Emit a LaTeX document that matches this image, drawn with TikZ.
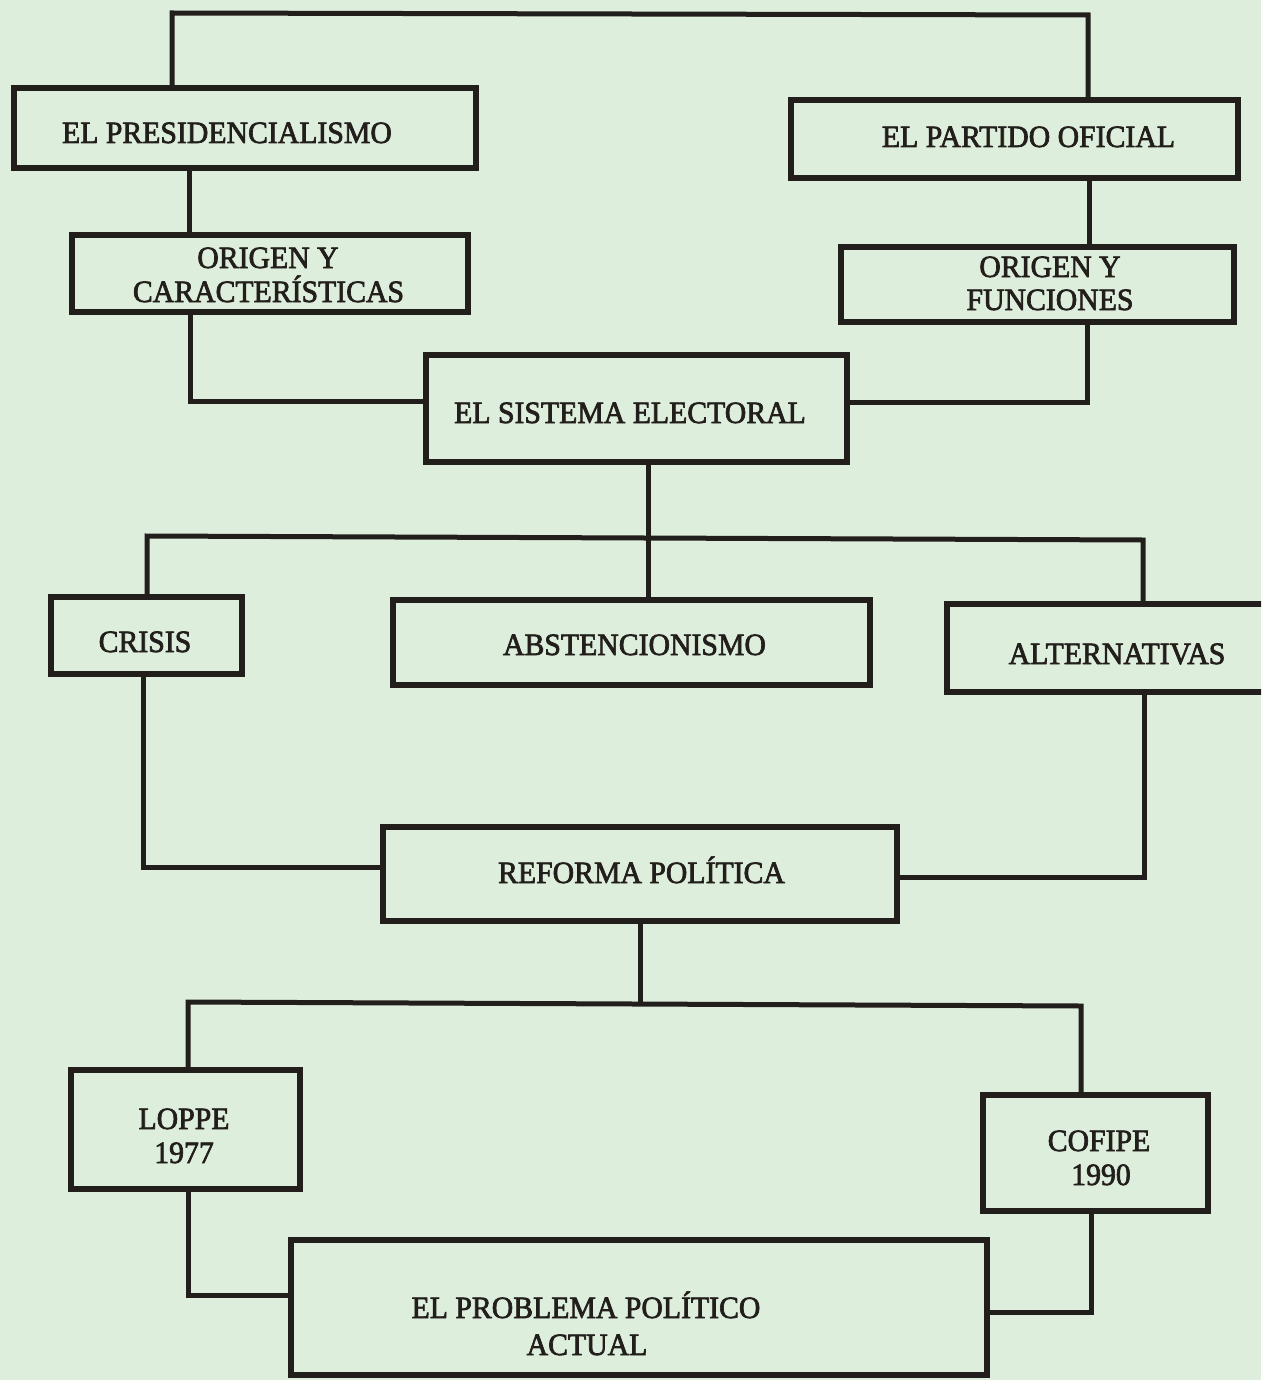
\documentclass[tikz,border=0pt]{standalone}
\usepackage{fontspec}
\newfontfamily\boxfont{Liberation Serif}[FakeBold=2.2,FakeStretch=0.96]
\definecolor{paper}{RGB}{222,238,220}
\definecolor{ink}{RGB}{34,30,27}
\begin{document}
\begin{tikzpicture}[x=1pt,y=-1pt,
  box/.style={draw=ink, line width=5.5pt, rectangle, inner sep=0pt},
  conn/.style={draw=ink, line width=5pt, line join=miter},
  lbl/.style={anchor=base, inner sep=0pt, text=ink, font=\boxfont\fontsize{31}{35}\selectfont}]
\useasboundingbox (0,0) rectangle (1261,1380);
\fill[paper] (0,0) rectangle (1261,1380);
\clip (0,0) rectangle (1261,1380);

% boxes
\node[box, minimum width=462pt, minimum height=80pt] (pres) at (245,128) {};
\node[box, minimum width=447pt, minimum height=78pt] (part) at (1014.5,139) {};
\node[box, minimum width=396pt, minimum height=77pt] (oc) at (270,273.5) {};
\node[box, minimum width=393pt, minimum height=75pt] (of) at (1037.5,284.5) {};
\node[box, minimum width=421pt, minimum height=107pt] (sis) at (636.5,408.5) {};
\node[box, minimum width=191pt, minimum height=77pt] (crisis) at (146.5,635.5) {};
\node[box, minimum width=477pt, minimum height=85pt] (abst) at (631.5,642.5) {};
\node[box, minimum width=328pt, minimum height=88pt] (alt) at (1111,648) {};
\node[box, minimum width=514pt, minimum height=94pt] (ref) at (640,874) {};
\node[box, minimum width=229pt, minimum height=119pt] (loppe) at (185.5,1129.5) {};
\node[box, minimum width=225pt, minimum height=116pt] (cofipe) at (1095.5,1153) {};
\node[box, minimum width=696pt, minimum height=135pt] (prob) at (639,1307.5) {};

% labels
\node[lbl] (tpres) at (227,143) {EL PRESIDENCIALISMO};
\node[lbl] (tpart) at (1028.5,147) {EL PARTIDO OFICIAL};
\node[lbl] (toc1) at (268,268) {ORIGEN Y};
\node[lbl] (toc2) at (268.5,302) {CARACTERÍSTICAS};
\node[lbl] (tof1) at (1050,277) {ORIGEN Y};
\node[lbl] (tof2) at (1050,310) {FUNCIONES};
\node[lbl] (tsis) at (630,423) {EL SISTEMA ELECTORAL};
\node[lbl] (tcri) at (145,652) {CRISIS};
\node[lbl] (tabs) at (634.5,655) {ABSTENCIONISMO};
\node[lbl] (talt) at (1117,664) {ALTERNATIVAS};
\node[lbl] (tref) at (641.5,883) {REFORMA POLÍTICA};
\node[lbl] (tlo1) at (184,1129) {LOPPE};
\node[lbl] (tlo2) at (184,1163) {1977};
\node[lbl] (tco1) at (1099,1151) {COFIPE};
\node[lbl] (tco2) at (1101,1185) {1990};
\node[lbl] (tpr1) at (586,1318) {EL PROBLEMA POLÍTICO};
\node[lbl] (tpr2) at (587,1355) {ACTUAL};

% connector waypoints
\coordinate (tL) at (172,13);
\coordinate (tR) at (1088,15);
\coordinate (pA) at (189,0);
\coordinate (pB) at (1089,0);
\coordinate (sL) at (190,401);
\coordinate (sR) at (1087,402);
\coordinate (mC) at (648,0);
\coordinate (bL) at (147,536);
\coordinate (bR) at (1143,540);
\coordinate (rL) at (143,867);
\coordinate (rR) at (1144,877);
\coordinate (rC) at (640,1004);
\coordinate (lL) at (188,1002);
\coordinate (lR) at (1081,1006);
\coordinate (qL) at (188,1295);
\coordinate (qR) at (1091,1312);

% connectors
\draw[conn] (pres.north -| tL) -- (tL) -- (tR) -- (part.north -| tR);
\draw[conn] (pres.south -| pA) -- (oc.north -| pA);
\draw[conn] (part.south -| pB) -- (of.north -| pB);
\draw[conn] (oc.south -| sL) -- (sL) -- (sis.west |- sL);
\draw[conn] (of.south -| sR) -- (sR) -- (sis.east |- sR);
\draw[conn] (sis.south -| mC) -- (abst.north -| mC);
\draw[conn] (crisis.north -| bL) -- (bL) -- (bR) -- (alt.north -| bR);
\draw[conn] (crisis.south -| rL) -- (rL) -- (ref.west |- rL);
\draw[conn] (alt.south -| rR) -- (rR) -- (ref.east |- rR);
\draw[conn] (ref.south -| rC) -- (rC);
\draw[conn] (loppe.north -| lL) -- (lL) -- (lR) -- (cofipe.north -| lR);
\draw[conn] (loppe.south -| qL) -- (qL) -- (prob.west |- qL);
\draw[conn] (cofipe.south -| qR) -- (qR) -- (prob.east |- qR);
\end{tikzpicture}
\end{document}
